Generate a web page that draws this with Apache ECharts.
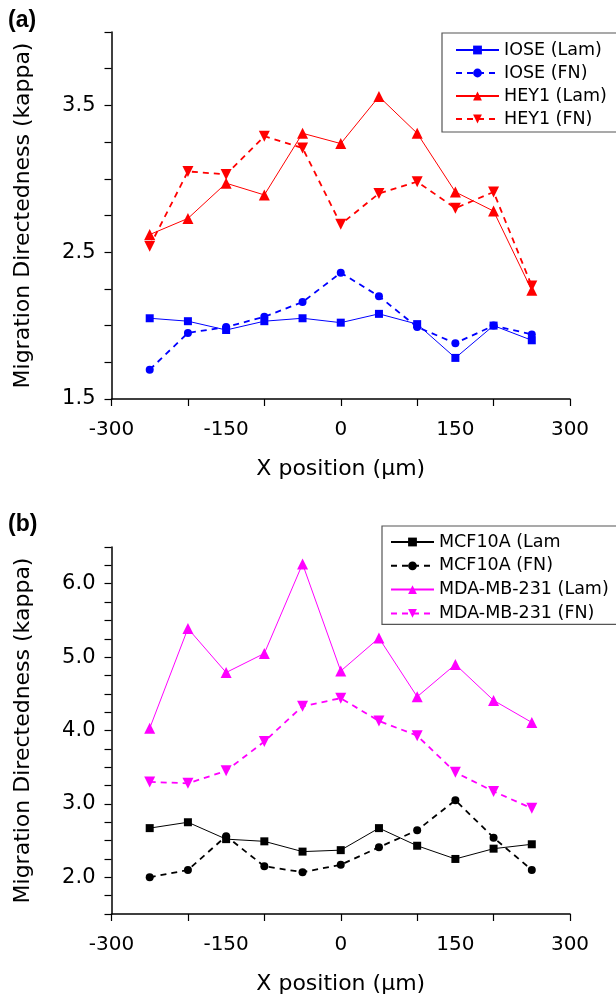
<!DOCTYPE html>
<html><head><meta charset="utf-8">
<script src="https://cdn.jsdelivr.net/npm/echarts@6/dist/echarts.min.js"></script>
<style>html,body{margin:0;padding:0;background:#fff}#c{width:616px;height:996px}</style>
</head><body><div id="c"></div>
<script>
const xPositions = [-250, -200, -150, -100, -50, 0, 50, 100, 150, 200, 250];
const xTickLabels = [-300, -150, 0, 150, 300];
const yLabelsA = [1.5, 2.5, 3.5];
const yLabelsB = [2.0, 3.0, 4.0, 5.0, 6.0];

const ioseLam = [2.05, 2.03, 1.97, 2.03, 2.05, 2.02, 2.08, 2.01, 1.78, 2.00, 1.90];
const ioseFN  = [1.70, 1.95, 1.99, 2.06, 2.16, 2.36, 2.20, 1.99, 1.88, 2.00, 1.94];
const hey1Lam = [2.62, 2.73, 2.97, 2.89, 3.31, 3.24, 3.56, 3.31, 2.91, 2.78, 2.24];
const hey1FN  = [2.54, 3.05, 3.03, 3.29, 3.21, 2.69, 2.90, 2.98, 2.80, 2.91, 2.27];

const mcfLam = [2.67, 2.75, 2.52, 2.49, 2.35, 2.37, 2.67, 2.43, 2.25, 2.39, 2.45];
const mcfFN  = [2.00, 2.10, 2.56, 2.15, 2.07, 2.17, 2.41, 2.64, 3.05, 2.54, 2.10];
const mdaLam = [4.03, 5.39, 4.79, 5.05, 6.27, 4.81, 5.26, 4.46, 4.90, 4.41, 4.11];
const mdaFN  = [3.30, 3.28, 3.45, 3.85, 4.33, 4.44, 4.13, 3.93, 3.43, 3.17, 2.94];

const namesA = ['IOSE (Lam)', 'IOSE (FN)', 'HEY1 (Lam)', 'HEY1 (FN)'];
const namesB = ['MCF10A (Lam', 'MCF10A (FN)', 'MDA-MB-231 (Lam)', 'MDA-MB-231 (FN)'];

const FONT = '"DejaVu Sans", sans-serif';
const pair = arr => xPositions.map((x, i) => [x, arr[i]]);

function xAxis(gi) {
  return {
    type: 'value', gridIndex: gi, min: -300, max: 300, interval: 100,
    name: 'X position (μm)', nameLocation: 'middle', nameGap: 59,
    nameTextStyle: { fontFamily: FONT, fontSize: 22, color: '#000' },
    axisLine: { onZero: false, lineStyle: { color: '#000', width: 1.5 } },
    axisTick: { inside: false, length: 7, lineStyle: { color: '#000', width: 1.2 } },
    axisLabel: { customValues: xTickLabels, fontFamily: FONT, fontSize: 20, color: '#000', margin: 21 },
    splitLine: { show: false }
  };
}
function yAxis(gi, min, max, labels) {
  return {
    type: 'value', gridIndex: gi, min: min, max: max, interval: 0.25,
    name: 'Migration Directedness (kappa)', nameLocation: 'middle', nameGap: 77,
    nameTextStyle: { fontFamily: FONT, fontSize: 22, color: '#000' },
    axisLine: { show: true, onZero: false, lineStyle: { color: '#000', width: 1.5 } },
    axisTick: { inside: false, length: 7, lineStyle: { color: '#000', width: 1.2 } },
    axisLabel: {
      fontFamily: FONT, fontSize: 21, color: '#000', margin: 16,
      formatter: v => labels.some(l => Math.abs(l - v) < 1e-6) ? v.toFixed(1) : ''
    },
    splitLine: { show: false }
  };
}
function ser(name, data, color, symbol, dashed, gi, rot) {
  return {
    type: 'line', name: name, data: pair(data), xAxisIndex: gi, yAxisIndex: gi,
    symbol: symbol, symbolSize: symbol === 'triangle' ? 11 : 8, symbolRotate: rot || 0,
    showAllSymbol: true,
    lineStyle: { color: color, width: dashed ? 1.8 : 1, type: dashed ? [6, 5] : 'solid' },
    itemStyle: { color: color },
    emphasis: { disabled: true }, animation: false
  };
}
function legend(names, left, top, padding, gap) {
  return {
    data: names, orient: 'vertical', left: left, top: top,
    itemWidth: 43, itemHeight: 11, itemGap: gap,
    padding: padding, borderColor: '#555', borderWidth: 1.2,
    textStyle: { fontFamily: FONT, fontSize: 17.5, color: '#000', lineHeight: 20 },
    selectedMode: false
  };
}
const chart = echarts.init(document.getElementById('c'), null, { renderer: 'canvas' });
chart.setOption({
  animation: false,
  grid: [
    { left: 111.5, top: 32, width: 458.5, height: 367 },
    { left: 111.5, top: 547, width: 458.5, height: 367 }
  ],
  xAxis: [xAxis(0), xAxis(1)],
  yAxis: [yAxis(0, 1.5, 4.0, yLabelsA), yAxis(1, 1.5, 6.5, yLabelsB)],
  legend: [legend(namesA, 442, 33, [7, 10, 3, 13], 3), legend(namesB, 382, 526, [6, 10, 1, 8], 3.8)],
  graphic: [
    { type: 'text', left: 8, top: 9, style: { text: '(a)', font: 'bold 23px "Liberation Sans", Arial, sans-serif', fill: '#000' } },
    { type: 'text', left: 8, top: 513, style: { text: '(b)', font: 'bold 23px "Liberation Sans", Arial, sans-serif', fill: '#000' } }
  ],
  series: [
    ser(namesA[0], ioseLam, '#0000ff', 'rect', false, 0),
    ser(namesA[1], ioseFN, '#0000ff', 'circle', true, 0),
    ser(namesA[2], hey1Lam, '#ff0000', 'triangle', false, 0),
    ser(namesA[3], hey1FN, '#ff0000', 'triangle', true, 0, 180),
    ser(namesB[0], mcfLam, '#000000', 'rect', false, 1),
    ser(namesB[1], mcfFN, '#000000', 'circle', true, 1),
    ser(namesB[2], mdaLam, '#ff00ff', 'triangle', false, 1),
    ser(namesB[3], mdaFN, '#ff00ff', 'triangle', true, 1, 180)
  ]
});
</script></body></html>
